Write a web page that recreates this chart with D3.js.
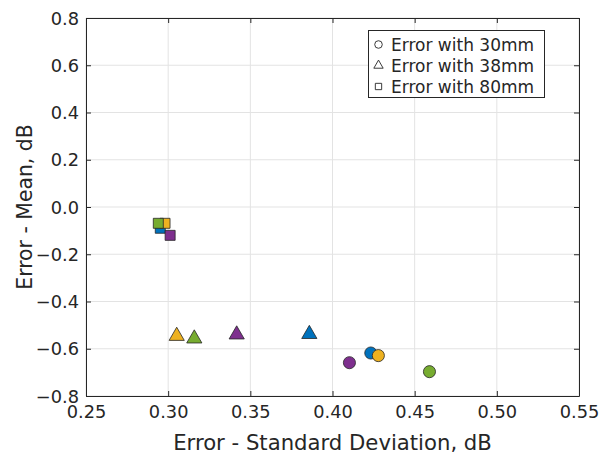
<!DOCTYPE html>
<html><head><meta charset="utf-8">
<script src="https://cdn.jsdelivr.net/npm/d3@7"></script>
<style>body{margin:0;background:#fff}svg{display:block}text{font-family:"DejaVu Sans";fill:#262626}</style>
</head><body><svg id="c" width="611" height="456"></svg>
<script>
// Data (x = std dev error, y = mean error), per microphone size and color group
const groups = ["blue","yellow","purple","green"];
const colors = ["#0072BD","#EDB120","#7E2F8E","#77AC30"];
const std30 = [0.4233, 0.4279, 0.4103, 0.4590];
const mean30 = [-0.618, -0.629, -0.659, -0.697];
const std38 = [0.3859, 0.3052, 0.3417, 0.3159];
const mean38 = [-0.538, -0.546, -0.540, -0.557];
const std80 = [0.2952, 0.2981, 0.3012, 0.2940];
const mean80 = [-0.090, -0.069, -0.120, -0.069];
const xTicks = [0.25,0.30,0.35,0.40,0.45,0.50,0.55];
const yTicks = [-0.8,-0.6,-0.4,-0.2,0.0,0.2,0.4,0.6,0.8];
const legendLabels = ["Error with 30mm","Error with 38mm","Error with 80mm"];

const svg = d3.select("#c");
const L=86, R=579, T=18, B=396;
const x = d3.scaleLinear().domain([0.25,0.55]).range([L,R]);
const y = d3.scaleLinear().domain([-0.8,0.8]).range([B,T]);

// grid
svg.append("g").selectAll("line").data(xTicks).join("line")
  .attr("x1",d=>x(d)).attr("x2",d=>x(d)).attr("y1",T).attr("y2",B)
  .attr("stroke","#e3e3e3").attr("stroke-width",1);
svg.append("g").selectAll("line").data(yTicks).join("line")
  .attr("y1",d=>y(d)).attr("y2",d=>y(d)).attr("x1",L).attr("x2",R)
  .attr("stroke","#e3e3e3").attr("stroke-width",1);

// axes
const xAxis = d3.axisBottom(x).tickValues(xTicks).tickFormat(d3.format(".2f")).tickSizeInner(-5).tickSizeOuter(0).tickPadding(9);
const yAxis = d3.axisLeft(y).tickValues(yTicks).tickFormat(d3.format(".1f")).tickSizeInner(-5).tickSizeOuter(0).tickPadding(7);
const gx = svg.append("g").attr("transform",`translate(0,${B})`).call(xAxis);
const gy = svg.append("g").attr("transform",`translate(${L},0)`).call(yAxis);
const gx2 = svg.append("g").attr("transform",`translate(0,${T})`).call(d3.axisTop(x).tickValues(xTicks).tickFormat("").tickSizeInner(-5).tickSizeOuter(0));
const gy2 = svg.append("g").attr("transform",`translate(${R},0)`).call(d3.axisRight(y).tickValues(yTicks).tickFormat("").tickSizeInner(-5).tickSizeOuter(0));
[gx,gy,gx2,gy2].forEach(g=>{
  g.select(".domain").attr("stroke","#262626").attr("stroke-width",1);
  g.selectAll(".tick line").attr("stroke","#262626");
  g.selectAll(".tick text").attr("font-size","17.8px").attr("font-family","DejaVu Sans").attr("fill","#262626");
});
gy.selectAll(".tick text").attr("dy","0.35em");

// labels
svg.append("text").attr("x",(L+R)/2).attr("y",450).attr("text-anchor","middle").attr("font-size","21.2px").text("Error - Standard Deviation, dB");
svg.append("text").attr("transform",`translate(32,${(T+B)/2}) rotate(-90)`).attr("text-anchor","middle").attr("font-size","20.4px").text("Error - Mean, dB");

// markers
const sym = [d3.symbolCircle, d3.symbolTriangle, d3.symbolSquare];
const sizes = [115, 100, 100];
const sets = [[std30,mean30],[std38,mean38],[std80,mean80]];
const pts = svg.append("g");
sets.forEach((s,si)=>{
  groups.forEach((g,gi)=>{
    pts.append("path")
      .attr("d", d3.symbol(sym[si], sizes[si])())
      .attr("transform",`translate(${x(s[0][gi])},${y(s[1][gi])})`)
      .attr("fill",colors[gi]).attr("stroke","#262626").attr("stroke-width",0.8);
  });
});

// legend
const lg = svg.append("g");
lg.append("rect").attr("x",368.5).attr("y",30.5).attr("width",176).attr("height",67)
  .attr("fill","#fff").attr("stroke","#262626").attr("stroke-width",1);
legendLabels.forEach((t,i)=>{
  const cy = 44.5 + i*21;
  lg.append("path").attr("d", d3.symbol(sym[i], [45,38,40][i])())
    .attr("transform",`translate(378.5,${cy})`).attr("fill","#fff").attr("stroke","#262626").attr("stroke-width",0.9);
  lg.append("text").attr("x",391).attr("y",cy).attr("dy","0.36em").attr("font-size","17px").text(t);
});
</script></body></html>
